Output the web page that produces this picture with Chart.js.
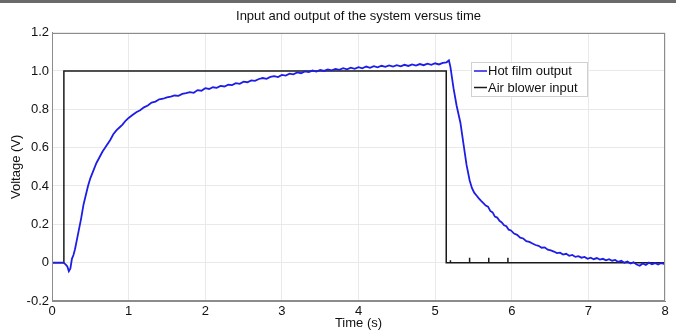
<!DOCTYPE html>
<html>
<head>
<meta charset="utf-8">
<script src="https://cdn.jsdelivr.net/npm/chart.js@4/dist/chart.umd.min.js"></script>
<style>
  html, body { margin: 0; padding: 0; background: #fff; }
  #wrap { position: relative; width: 676px; height: 331px; }
  #topbar { position: absolute; left: 0; top: 0; width: 676px; height: 3px; background: #6a6a6a; }
</style>
</head>
<body>
<div id="wrap">
  <canvas id="chart" width="676" height="331"></canvas>
  <div id="topbar"></div>
</div>
<script>
// series names
var seriesNames = ['Hot film output', 'Air blower input'];

// hot film output (time s, voltage V)
var filmTime = [0, 0.08, 0.15, 0.18, 0.2, 0.22, 0.24, 0.26, 0.28, 0.3, 0.32, 0.35, 0.38, 0.41, 0.44, 0.47, 0.5,
  0.54, 0.58, 0.62, 0.66, 0.71, 0.76, 0.8, 0.84, 0.88, 0.92, 0.96, 1.0, 1.05, 1.1, 1.15, 1.2, 1.25, 1.3, 1.35,
  1.4, 1.45, 1.5, 1.55, 1.6, 1.65, 1.7, 1.75, 1.8, 1.85, 1.9, 1.95, 2.0, 2.05, 2.1, 2.15, 2.2, 2.25, 2.3, 2.35,
  2.4, 2.45, 2.5, 2.55, 2.6, 2.65, 2.7, 2.75, 2.8, 2.85, 2.9, 2.95, 3.0, 3.05, 3.1, 3.15, 3.2, 3.25, 3.3, 3.35,
  3.4, 3.45, 3.5, 3.55, 3.6, 3.65, 3.7, 3.75, 3.8, 3.85, 3.9, 3.95, 4.0, 4.05, 4.1, 4.15, 4.2, 4.25, 4.3, 4.35,
  4.4, 4.45, 4.5, 4.55, 4.6, 4.65, 4.7, 4.75, 4.8, 4.85, 4.9, 4.95, 5.0, 5.05, 5.1, 5.15, 5.18, 5.2, 5.24,
  5.28, 5.33, 5.37, 5.41, 5.45, 5.48, 5.51, 5.54, 5.57, 5.6, 5.63, 5.66, 5.69, 5.72, 5.75, 5.78, 5.81, 5.84,
  5.87, 5.9, 5.93, 5.96, 5.99, 6.03, 6.07, 6.11, 6.15, 6.19, 6.23, 6.27, 6.31, 6.35, 6.39, 6.43, 6.47, 6.51,
  6.55, 6.59, 6.63, 6.67, 6.71, 6.75, 6.79, 6.83, 6.87, 6.91, 6.95, 6.99, 7.03, 7.07, 7.11, 7.15, 7.19, 7.23,
  7.27, 7.31, 7.35, 7.39, 7.43, 7.47, 7.51, 7.55, 7.59, 7.63, 7.67, 7.71, 7.75, 7.79, 7.83, 7.87, 7.91, 7.95, 8.0];
var filmVolts = [0, 0, 0, -0.01, -0.02, -0.045, -0.03, 0.02, 0.04, 0.07, 0.11, 0.17, 0.23, 0.3, 0.35, 0.4, 0.44,
  0.48, 0.52, 0.55, 0.58, 0.61, 0.64, 0.67, 0.69, 0.705, 0.72, 0.74, 0.755, 0.77, 0.785, 0.795, 0.81, 0.82, 0.835, 0.84,
  0.852, 0.855, 0.862, 0.866, 0.872, 0.87, 0.88, 0.884, 0.889, 0.886, 0.9, 0.897, 0.91, 0.906, 0.915, 0.912, 0.922, 0.919, 0.928, 0.926,
  0.936, 0.933, 0.944, 0.941, 0.951, 0.948, 0.958, 0.963, 0.959, 0.969, 0.973, 0.968, 0.979, 0.976, 0.986, 0.982, 0.992, 0.988, 0.998, 0.994,
  1.002, 0.997, 1.005, 1.0, 1.008, 1.003, 1.011, 1.006, 1.014, 1.008, 1.017, 1.011, 1.02, 1.014, 1.023, 1.016, 1.025, 1.019, 1.027, 1.021,
  1.029, 1.023, 1.03, 1.024, 1.032, 1.026, 1.034, 1.028, 1.036, 1.03, 1.038, 1.032, 1.04, 1.034, 1.042, 1.045, 1.055, 1.02, 0.91,
  0.82, 0.73, 0.62, 0.51, 0.43, 0.39, 0.365, 0.35, 0.335, 0.322, 0.31, 0.298, 0.292, 0.27, 0.262, 0.24, 0.235, 0.218,
  0.21, 0.195, 0.19, 0.172, 0.168, 0.152, 0.145, 0.13, 0.126, 0.112, 0.108, 0.1, 0.092, 0.088, 0.078, 0.08, 0.068, 0.064,
  0.058, 0.05, 0.052, 0.042, 0.046, 0.036, 0.04, 0.03, 0.034, 0.026, 0.03, 0.02, 0.026, 0.018, 0.024, 0.016, 0.02, 0.012,
  0.018, 0.01, 0.014, 0.004, 0.01, 0.0, 0.006, -0.004, 0.002, -0.01, -0.016, -0.004, -0.012, 0.0, -0.008, -0.002, -0.01, -0.002, -0.008];

// air blower input: step on at ~0.155 s, off at ~5.145 s, with small glitches afterwards
var blowerTime = [0, 0.155, 0.155, 5.145, 5.145, 5.2, 5.2, 5.2, 5.45, 5.45, 5.45, 5.7, 5.7, 5.7, 5.95, 5.95, 5.95, 8.0];
var blowerVolts = [0, 0, 1.0, 1.0, 0, 0, 0.012, 0, 0, 0.025, 0, 0, 0.025, 0, 0, 0.025, 0, 0];

// axis ticks
var xTicks = [0, 1, 2, 3, 4, 5, 6, 7, 8];
var yTicks = [-0.2, 0, 0.2, 0.4, 0.6, 0.8, 1.0, 1.2];
var yTickLabels = ['-0.2', '0', '0.2', '0.4', '0.6', '0.8', '1.0', '1.2'];

function toPoints(xs, ys) {
  return xs.map(function (x, i) { return { x: x, y: ys[i] }; });
}

var fontFamily = "'Liberation Sans', Arial, Helvetica, sans-serif";

// gray box round the whole plot area
var plotBox = {
  id: 'plotBox',
  afterDatasetsDraw: function (chart) {
    var a = chart.chartArea, c = chart.ctx;
    c.save();
    c.strokeStyle = '#8c8c8c';
    c.lineWidth = 1;
    c.strokeRect(Math.round(a.left) + 0.5, Math.round(a.top) + 0.5,
      Math.round(a.right - a.left) - 1, Math.round(a.bottom - a.top) - 1);
    c.restore();
  }
};

// legend box drawn inside the plot area, top right
var insideLegend = {
  id: 'insideLegend',
  afterDraw: function (chart) {
    var c = chart.ctx;
    var left = 471, top = 62, w = 116, h = 34;
    c.save();
    c.fillStyle = '#fff';
    c.fillRect(left, top, w, h);
    c.strokeStyle = '#d0d0d0';
    c.lineWidth = 1;
    c.strokeRect(left + 0.5, top + 0.5, w, h);
    c.font = '13px ' + fontFamily;
    c.textBaseline = 'middle';
    chart.data.datasets.forEach(function (ds, i) {
      var y = top + 9 + i * 16.5;
      c.strokeStyle = ds.borderColor;
      c.lineWidth = 1.5;
      c.beginPath();
      c.moveTo(left + 3, y);
      c.lineTo(left + 16, y);
      c.stroke();
      c.fillStyle = '#111';
      c.fillText(ds.label, left + 17, y + 0.5);
    });
    c.restore();
  }
};

var ctx = document.getElementById('chart').getContext('2d');
var chart = new Chart(ctx, {
  type: 'scatter',
  data: {
    datasets: [{
      label: seriesNames[0],
      data: toPoints(filmTime, filmVolts),
      showLine: true,
      borderColor: '#1d1de6',
      borderWidth: 1.8,
      pointRadius: 0,
      tension: 0
    }, {
      label: seriesNames[1],
      data: toPoints(blowerTime, blowerVolts),
      showLine: true,
      borderColor: '#1a1a1a',
      borderWidth: 1.5,
      pointRadius: 0,
      tension: 0
    }]
  },
  options: {
    responsive: false,
    animation: false,
    layout: { padding: { left: 0, right: 11, top: 0, bottom: 0 } },
    plugins: {
      legend: { display: false },
      tooltip: { enabled: false },
      title: {
        display: true,
        fullSize: false,
        text: 'Input and output of the system versus time',
        color: '#111',
        font: { family: fontFamily, size: 13, weight: 'normal' },
        padding: { top: 9, bottom: 8 }
      }
    },
    scales: {
      x: {
        type: 'linear',
        min: 0,
        max: 8,
        afterFit: function (s) { s.height = 30; },
        afterBuildTicks: function (s) { s.ticks = xTicks.map(function (v) { return { value: v }; }); },
        grid: { color: '#e9e9e9', drawTicks: false },
        border: { color: '#8c8c8c', width: 1 },
        ticks: { color: '#111', padding: 3, font: { family: fontFamily, size: 13 } },
        title: {
          display: true,
          text: 'Time (s)',
          color: '#111',
          font: { family: fontFamily, size: 13 },
          padding: { top: 0, bottom: 0 }
        }
      },
      y: {
        type: 'linear',
        min: -0.2,
        max: 1.2,
        afterFit: function (s) { s.width = 52; },
        afterBuildTicks: function (s) { s.ticks = yTicks.map(function (v) { return { value: v }; }); },
        grid: { color: '#e9e9e9', drawTicks: false },
        border: { color: '#8c8c8c', width: 1 },
        ticks: {
          color: '#111',
          padding: 3,
          font: { family: fontFamily, size: 13 },
          callback: function (value) {
            var i = yTicks.findIndex(function (t) { return Math.abs(t - value) < 1e-6; });
            return i >= 0 ? yTickLabels[i] : '';
          }
        },
        title: {
          display: true,
          text: 'Voltage (V)',
          color: '#111',
          font: { family: fontFamily, size: 13 },
          padding: { top: 9, bottom: 0 }
        }
      }
    }
  },
  plugins: [plotBox, insideLegend]
});
</script>
</body>
</html>
